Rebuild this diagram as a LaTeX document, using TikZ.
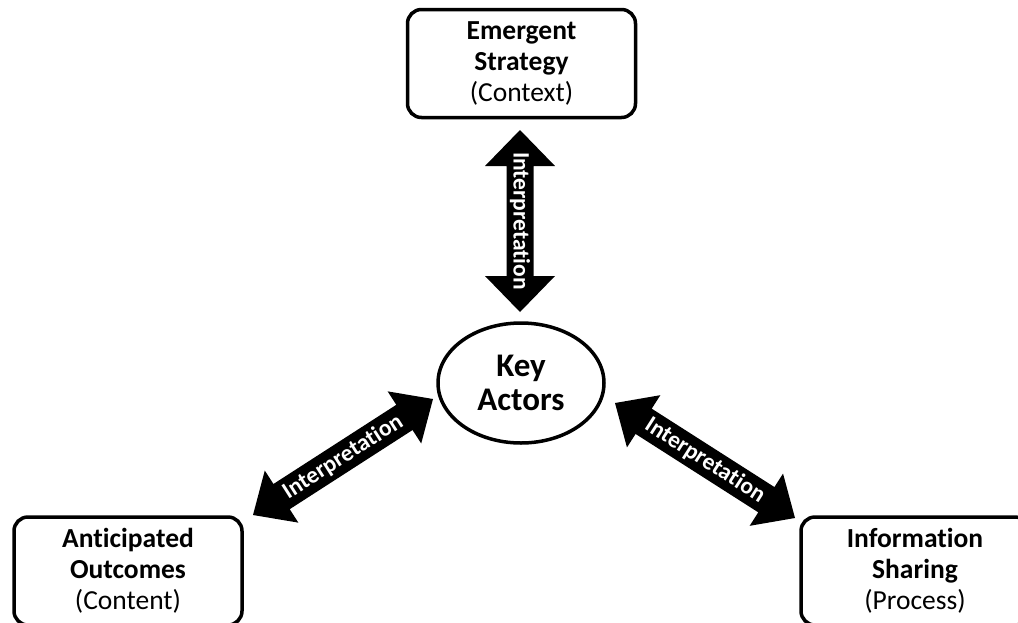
\documentclass[tikz,border=0pt]{standalone}
\usepackage{fontspec}
\setmainfont{Carlito}[Ligatures=NoCommon]
\usetikzlibrary{calc,shapes.geometric}

% Two-headed block arrow between two named points:
% #1 start, #2 end, #3 head length, #4 half head width, #5 half shaft width
\newcommand\twowayarrow[5]{%
  \coordinate (#1-base) at ($(#1)!#3!(#2)$);
  \coordinate (#2-base) at ($(#2)!#3!(#1)$);
  \fill[arrowink] (#1)
    -- ($(#1-base)!#4!90:(#2)$)
    -- ($(#1-base)!#5!90:(#2)$)
    -- ($(#2-base)!#5!-90:(#1)$)
    -- ($(#2-base)!#4!-90:(#1)$)
    -- (#2)
    -- ($(#2-base)!#4!90:(#1)$)
    -- ($(#2-base)!#5!90:(#1)$)
    -- ($(#1-base)!#5!-90:(#2)$)
    -- ($(#1-base)!#4!-90:(#2)$)
    -- cycle;
}

\tikzset{
  card/.style={draw=black, line width=3.5pt, rounded corners=14pt, fill=white,
    minimum width=228pt, minimum height=108pt, inner sep=0pt, align=center,
    font=\fontsize{27.5}{31}\selectfont},
  hub/.style={draw=black, line width=3.5pt, ellipse, fill=white,
    minimum width=166pt, minimum height=120pt, inner sep=0pt, align=center,
    font=\bfseries\fontsize{33}{34}\selectfont},
  arrowink/.style={fill=black},
  arrowtext/.style={text=white, inner sep=0pt,
    font=\bfseries\fontsize{23.5}{24}\selectfont},
}

\begin{document}
\begin{tikzpicture}[x=1pt, y=-1pt]
  \useasboundingbox (0,0) rectangle (1018,622);
  \clip (0,0) rectangle (1018,622);

  % boxes and the central ellipse
  \node[card] (strategy) at (521.5,63.5) {\textbf{Emergent}\\\textbf{Strategy}\\(Context)};
  \node[card] (outcomes) at (128,571) {\textbf{Anticipated}\\\textbf{Outcomes}\\(Content)};
  \node[card] (sharing) at (915,571) {\textbf{Information}\\\textbf{Sharing}\\(Process)};
  \node[hub] (actors) at (521,383) {Key\\Actors};

  % arrow tips
  \coordinate (vt) at (520,130);
  \coordinate (vb) at (520,312);
  \coordinate (lb) at (253,515);
  \coordinate (lt) at (433,399);
  \coordinate (rt) at (615,403);
  \coordinate (rb) at (795,518);

  % two-way "Interpretation" arrows
  \twowayarrow{vt}{vb}{36pt}{35pt}{13.5pt}
  \twowayarrow{lb}{lt}{34pt}{31pt}{15pt}
  \twowayarrow{rt}{rb}{34pt}{31pt}{15pt}

  \node[arrowtext, rotate=-90] (vlabel) at ($(vt)!0.5!(vb)$) {Interpretation};
  \node[arrowtext, rotate=32.57] (llabel) at ($(lb)!0.5!(lt)$) {Interpretation};
  \node[arrowtext, rotate=-32.57] (rlabel) at ($(rt)!0.5!(rb)$) {Interpretation};
\end{tikzpicture}
\end{document}
